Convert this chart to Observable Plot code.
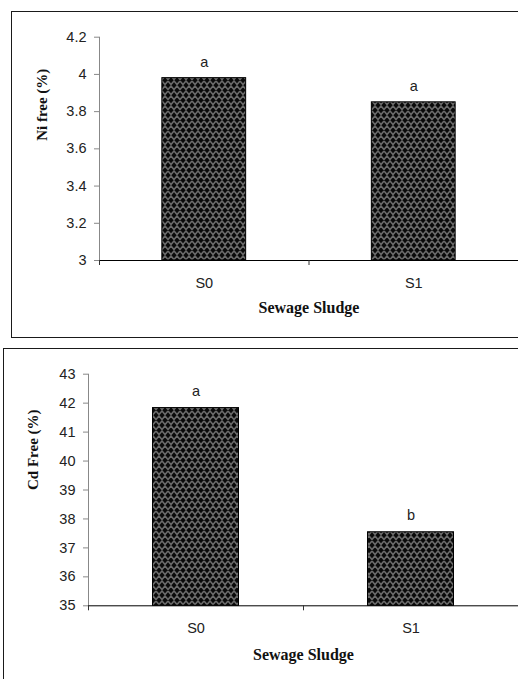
<!DOCTYPE html>
<html>
<head>
<meta charset="utf-8">
<script src="https://cdn.jsdelivr.net/npm/d3@7"></script>
<script src="https://cdn.jsdelivr.net/npm/@observablehq/plot@0.6"></script>
<style>
  html, body { margin: 0; padding: 0; background: #fff; }
  #page { position: relative; width: 518px; height: 679px; overflow: hidden; background: #fff; }
  .frame { position: absolute; border: 1.5px solid #1a1a1a; box-sizing: border-box; }
  .chart { position: absolute; left: 0; }
</style>
</head>
<body>
<div id="page">
  <div class="frame" style="left:11px; top:11px; width:620px; height:327px;"></div>
  <div class="frame" style="left:3px; top:348px; width:620px; height:400px;"></div>
  <div class="chart" id="top" style="top:0px;"></div>
  <div class="chart" id="bottom" style="top:340px;"></div>
</div>
<script>
const categories = ["S0", "S1"];
const niValues = [3.98, 3.85];
const niLetters = ["a", "a"];
const niTicks = [3, 3.2, 3.4, 3.6, 3.8, 4, 4.2];
const cdValues = [41.83, 37.54];
const cdLetters = ["a", "b"];
const cdTicks = [35, 36, 37, 38, 39, 40, 41, 42, 43];
const xTitle = "Sewage Sludge";

function chart(opt) {
  const data = categories.map((c, i) => ({c, i, v: opt.values[i], l: opt.letters[i]}));
  const base = opt.yDomain[0];
  const svg = Plot.plot({
    width: 518,
    height: opt.height,
    marginTop: opt.marginTop,
    marginBottom: opt.marginBottom,
    marginLeft: opt.marginLeft,
    marginRight: 0,
    style: {fontFamily: "'Liberation Sans', Arial, sans-serif", fontSize: "14.5px", color: "#222", background: "transparent", overflow: "visible"},
    x: {type: "linear", domain: [0, categories.length], axis: null},
    y: {domain: opt.yDomain, axis: null},
    marks: [
      Plot.rectY(data, {x1: d => d.i + 0.3, x2: d => d.i + 0.7, y1: base, y2: "v", fill: "url(#weave)", stroke: "#000", strokeWidth: 1}),
      Plot.ruleX([0], {stroke: "#888"}),
      Plot.axisY({ticks: opt.yTicks, tickSize: 5, tickPadding: 8, stroke: "#888", label: null, tickFormat: d => String(d)}),
      Plot.ruleY([base], {stroke: "#000"}),
      Plot.axisX({ticks: d3.range(categories.length + 1), tickSize: 5, tickFormat: () => "", label: null, stroke: "#333"}),
      Plot.axisX({ticks: categories.map((c, i) => i + 0.5), tickSize: 0, tickPadding: 17, tickFormat: t => categories[Math.floor(t)], label: null}),
      Plot.text(data, {x: d => d.i + 0.5, y: "v", text: "l", dy: opt.letterDy, fontSize: 14.5}),
      Plot.text([xTitle], {frameAnchor: "bottom", dy: opt.xTitleDy, fontFamily: "'Liberation Serif', 'Times New Roman', serif", fontWeight: "bold", fontSize: 16, fill: "#111"}),
      Plot.text([opt.yLabel], {frameAnchor: "left", rotate: -90, dx: opt.yTitleDx, dy: opt.yTitleDy, fontFamily: "'Liberation Serif', 'Times New Roman', serif", fontWeight: "bold", fontSize: 15, fill: "#111"})
    ]
  });
  d3.select(svg).insert("defs", ":first-child").html(`
    <pattern id="weave" patternUnits="userSpaceOnUse" width="12" height="10">
      <rect width="12" height="10" fill="#0a0a0a"/>
      <path d="M0,1 L3,4.5 L6,1 L9,4.5 L12,1 M-3,6 L0,9.5 L3,6 L6,9.5 L9,6 L12,9.5 L15,6" fill="none" stroke="#6a6a6a" stroke-width="1.6"/>
    </pattern>`);
  return svg;
}

document.getElementById("top").appendChild(chart({
  values: niValues, letters: niLetters, yDomain: [3, 4.2], yTicks: niTicks,
  yLabel: "Ni free (%)", height: 337, marginTop: 36.7, marginBottom: 77, marginLeft: 99,
  letterDy: -16, xTitleDy: 52, yTitleDx: -57, yTitleDy: -8
}));
document.getElementById("bottom").appendChild(chart({
  values: cdValues, letters: cdLetters, yDomain: [35, 43], yTicks: cdTicks,
  yLabel: "Cd Free (%)", height: 339, marginTop: 33.7, marginBottom: 73.7, marginLeft: 88,
  letterDy: -17, xTitleDy: 54, yTitleDx: -55, yTitleDy: 0
}));
</script>
</body>
</html>
